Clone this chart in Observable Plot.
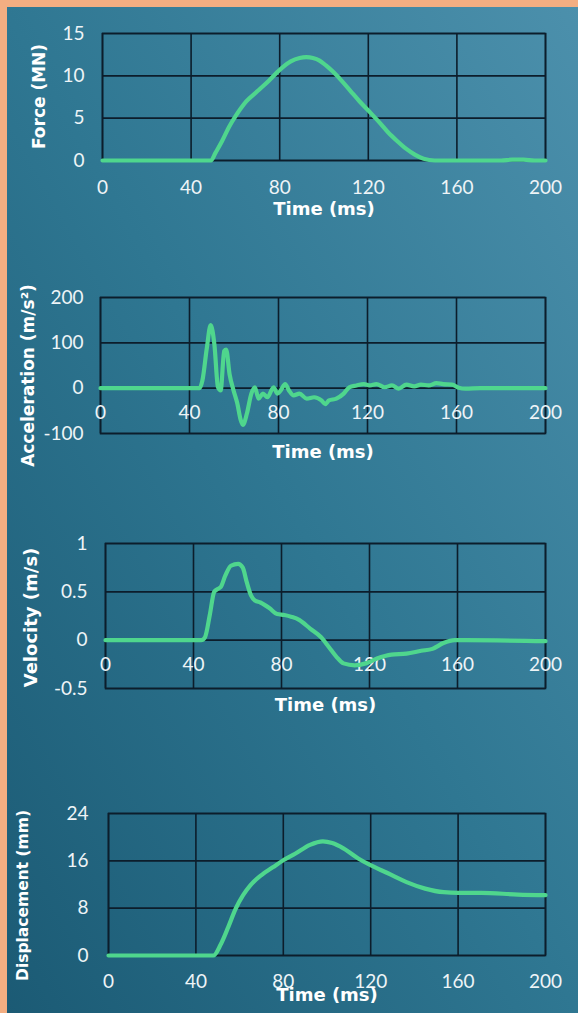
<!DOCTYPE html>
<html>
<head>
<meta charset="utf-8">
<script src="https://cdn.jsdelivr.net/npm/d3@7"></script>
<script src="https://cdn.jsdelivr.net/npm/@observablehq/plot@0.6"></script>
<style>
  html, body { margin: 0; padding: 0; background: #2a7089; }
  #page {
    position: relative; width: 578px; height: 1013px; overflow: hidden;
    background: linear-gradient(to top right, #1b5a74 0%, #2f7792 50%, #4c90ac 100%);
    font-family: Lato, "Open Sans", sans-serif;
  }
  #page .bt { position: absolute; left: 0; top: 0; width: 578px; height: 7px; background: #f3ae82; z-index: 5; }
  #page .bl { position: absolute; left: 0; top: 0; width: 7px; height: 1013px; background: #f3ae82; z-index: 5; }
  .panel { position: absolute; left: 0; }
  .panel svg { background: transparent; overflow: visible; }
</style>
</head>
<body>
<div id="page"><div class="bt"></div><div class="bl"></div></div>
<script>
// ---- Data ----
const timeTicks = [0, 40, 80, 120, 160, 200];

const forceTicks = [0, 5, 10, 15];
const forceTime   = [0, 49, 51, 54, 57, 60, 65, 70, 75, 80, 85, 89, 92, 95, 98, 101, 104, 108, 112, 116, 120, 125, 129, 133, 137, 141, 145, 150, 155, 180, 185, 190, 195, 200];
const forceValues = [0, 0, 0.9, 2.3, 3.9, 5.2, 7.0, 8.2, 9.4, 10.7, 11.7, 12.1, 12.2, 12.1, 11.8, 11.2, 10.5, 9.4, 8.2, 7.0, 5.9, 4.5, 3.3, 2.3, 1.4, 0.7, 0.2, 0, 0, 0, 0.1, 0.1, 0, 0];

const accelTicks = [-100, 0, 100, 200];
const accelTime   = [0, 44.5, 45.8, 47.8, 49.5, 51.2, 52.8, 54, 55.6, 56.5, 58, 59.8, 61.5, 63, 64, 65.8, 67.8, 69.4, 71, 73, 75, 77.8, 79.5, 81, 83, 84.7, 86.8, 89.4, 92.7, 96, 99.3, 101, 102.7, 106, 109.3, 111.8, 115, 118.4, 121, 124, 127.7, 131, 134, 137.5, 141, 144, 147.5, 151, 154, 158, 161, 164, 170.8, 200];
const accelValues = [0, 0, 17, 89, 139, 96, 2, -5, 82, 85, 31, -5, -34, -70, -81, -56, -12, 2, -23, -12, -20, 2, -12, -5, 9, -5, -16, -12, -23, -20, -27, -35, -27, -23, -12, 2, 6, 9, 6, 9, 2, 6, -1, 8, 4, 8, 6, 11, 9, 8, 1, -1, 0, 0];

const velTicks = [-0.5, 0, 0.5, 1];
const velTime   = [0, 43.5, 45.2, 47.4, 49.4, 51, 52.4, 54.5, 57, 60.3, 62.4, 64.2, 66.2, 67.9, 70.4, 74.6, 78, 81.3, 84.7, 88, 93, 98, 101.5, 104.9, 108.2, 113.3, 118.3, 123.4, 130, 136.8, 143.5, 148.6, 153.6, 158.7, 163.7, 200];
const velValues = [0, 0, 0.03, 0.26, 0.5, 0.53, 0.55, 0.67, 0.77, 0.79, 0.75, 0.6, 0.46, 0.41, 0.39, 0.33, 0.27, 0.26, 0.24, 0.21, 0.12, 0.03, -0.07, -0.17, -0.24, -0.26, -0.24, -0.19, -0.15, -0.14, -0.11, -0.09, -0.03, 0, 0, -0.01];

const dispTicks = [0, 8, 16, 24];
const dispTime   = [0, 48, 51.4, 54.8, 58.2, 61.6, 65, 70, 75.2, 80, 85.4, 92.2, 98.1, 102.4, 107.5, 114.3, 119.7, 127.9, 136.4, 144.9, 153.4, 160, 170.7, 187.4, 200];
const dispValues = [0, 0, 1.9, 4.8, 7.9, 10.2, 11.9, 13.6, 14.9, 16.1, 17.2, 18.7, 19.3, 19.0, 18.1, 16.4, 15.3, 13.9, 12.4, 11.3, 10.7, 10.6, 10.6, 10.3, 10.2];

const panels = [
  { title: "Force (MN)", time: forceTime, values: forceValues, ticks: forceTicks, domain: [0, 15], row: 0,
    frame: {left: 102, top: 33, bottom: 160}, xLabelY: 187, timeTitleY: 209, yTitle: {cx: 39, cy: 96, size: 17}, yTickRight: 84 },
  { title: "Acceleration (m/s²)", time: accelTime, values: accelValues, ticks: accelTicks, domain: [-100, 200], row: 0,
    frame: {left: 100, top: 297, bottom: 433}, xLabelY: 412, timeTitleY: 452, yTitle: {cx: 28, cy: 375, size: 17}, yTickRight: 83 },
  { title: "Velocity (m/s)", time: velTime, values: velValues, ticks: velTicks, domain: [-0.5, 1], row: 0,
    frame: {left: 105, top: 543, bottom: 688}, xLabelY: 664, timeTitleY: 705, yTitle: {cx: 31, cy: 617, size: 18}, yTickRight: 87 },
  { title: "Displacement (mm)", time: dispTime, values: dispValues, ticks: dispTicks, domain: [0, 24], row: 0,
    frame: {left: 108, top: 813, bottom: 955}, xLabelY: 981, timeTitleY: 995, yTitle: {cx: 23, cy: 895, size: 15.5}, yTickRight: 88 }
];

const GRID = "#0c1d2b";
const LINE = "#4fd68d";
const TXT = "#eef4f7";
const TITLE_FONT = "'DejaVu Sans', Lato, sans-serif";
const page = document.getElementById("page");
const W = 578, FRAME_RIGHT = 545, MT = 30, MB = 70;

for (const p of panels) {
  const f = p.frame;
  const fh = f.bottom - f.top;
  const data = p.time.map((t, i) => ({t, v: p.values[i]}));
  const [y0, y1] = p.domain;
  const rowPx = f.top + (y1 - p.row) / (y1 - y0) * fh;
  const frameCY = f.top + fh / 2;
  const plot = Plot.plot({
    width: W, height: fh + MT + MB,
    marginLeft: f.left, marginRight: W - FRAME_RIGHT, marginTop: MT, marginBottom: MB,
    x: {domain: [0, 200], axis: null},
    y: {domain: p.domain, axis: null},
    style: {background: "transparent", fontFamily: "Lato, 'Open Sans', sans-serif", overflow: "visible"},
    marks: [
      Plot.gridX(timeTicks, {stroke: GRID, strokeOpacity: 1, strokeWidth: 1.6}),
      Plot.gridY(p.ticks, {stroke: GRID, strokeOpacity: 1, strokeWidth: 1.6}),
      Plot.frame({stroke: GRID, strokeWidth: 1.6}),
      Plot.text(p.ticks, {y: d => d, frameAnchor: "left", dx: p.yTickRight - f.left, textAnchor: "end", lineAnchor: "middle",
        text: d => String(d), fill: TXT, fontSize: 19}),
      Plot.text(timeTicks, {x: d => d, y: p.row, dy: p.xLabelY - rowPx, lineAnchor: "middle",
        text: d => String(d), fill: TXT, fontSize: 19}),
      Plot.line(data, {x: "t", y: "v", stroke: LINE, strokeWidth: 4.2, curve: "monotone-x", strokeLinejoin: "round", strokeLinecap: "round"}),
      Plot.text(["Time (ms)"], {frameAnchor: "bottom", dy: p.timeTitleY - f.bottom, textAnchor: "middle", lineAnchor: "middle",
        fill: "#ffffff", fontSize: 18, fontWeight: "bold", fontFamily: TITLE_FONT}),
      Plot.text([p.title], {frameAnchor: "left", dx: p.yTitle.cx - f.left, dy: p.yTitle.cy - frameCY, rotate: -90,
        textAnchor: "middle", lineAnchor: "middle",
        fill: "#ffffff", fontSize: p.yTitle.size, fontWeight: "bold", fontFamily: TITLE_FONT})
    ]
  });
  const div = document.createElement("div");
  div.className = "panel";
  div.style.top = (f.top - MT) + "px";
  div.appendChild(plot);
  page.appendChild(div);
}
</script>
</body>
</html>
